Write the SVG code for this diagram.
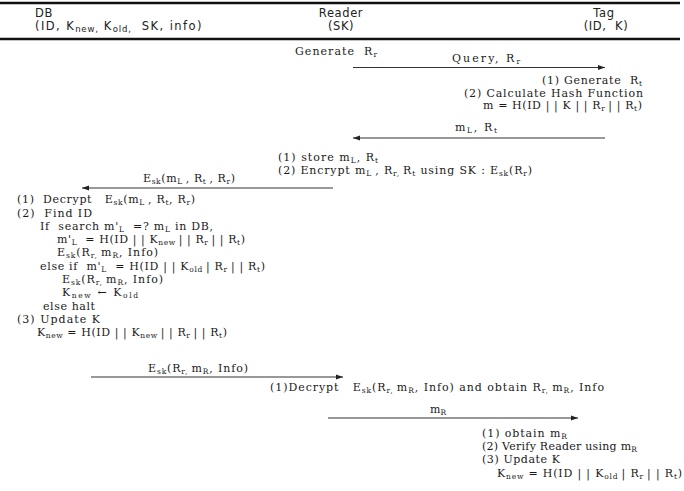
<svg xmlns="http://www.w3.org/2000/svg" width="684" height="491" viewBox="0 0 684 491">
<style>
.t{font-family:"DejaVu Serif","Liberation Serif",serif;font-size:11px;fill:#1a1a1a;white-space:pre}
.s{font-size:7.5px}
.h{font-family:"DejaVu Sans","Noto Sans",sans-serif;font-size:11.5px;fill:#222;white-space:pre;letter-spacing:0.6px}
.hs{font-size:8.5px;letter-spacing:0}
.rule{stroke:#111;stroke-width:2.5}
.arr{stroke:#333;stroke-width:1.1;fill:none;marker-end:url(#ah)}
</style>
<defs>
<marker id="ah" markerUnits="userSpaceOnUse" markerWidth="8" markerHeight="6" refX="7" refY="3" orient="auto">
<path d="M0,0.5 L7,3 L0,5.5 Z" fill="#222"/>
</marker>
</defs>
<rect width="684" height="491" fill="#fff"/>
<line class="rule" x1="0" y1="3" x2="680" y2="3"/>
<line class="rule" x1="0" y1="39" x2="680" y2="39"/>

<g id="db">
<text class="h" x="35" y="17">DB</text>
<text class="h" x="35" y="30" textLength="167">(ID, K<tspan class="hs" dy="2">new,</tspan><tspan dy="-2"> K</tspan><tspan class="hs" dy="2">old,</tspan><tspan dy="-2">  SK, info)</tspan></text>
</g>
<g id="reader">
<text class="h" x="341" y="17" text-anchor="middle">Reader</text>
<text class="h" x="341" y="30" text-anchor="middle">(SK)</text>
</g>
<g id="tag">
<text class="h" x="604" y="17" text-anchor="middle">Tag</text>
<text class="h" x="606" y="30" text-anchor="middle">(ID,  K)</text>
</g>

<g id="connectors">
<line class="arr" x1="353" y1="67.5" x2="605" y2="67.5"/>
<line class="arr" x1="605" y1="138" x2="353" y2="138"/>
<line class="arr" x1="333" y1="188" x2="82" y2="188"/>
<line class="arr" x1="91" y1="377" x2="343" y2="377"/>
<line class="arr" x1="328" y1="418" x2="578" y2="418"/>
</g>

<g id="labels">
<text class="t" x="452" y="62" textLength="68">Query, R<tspan class="s" dy="2">r</tspan></text>
<text class="t" x="455" y="131" textLength="42">m<tspan class="s" dy="2">L</tspan><tspan dy="-2">, R</tspan><tspan class="s" dy="2">t</tspan></text>
<text class="t" x="143" y="182" textLength="92">E<tspan class="s" dy="2">sk</tspan><tspan dy="-2">(m</tspan><tspan class="s" dy="2">L </tspan><tspan dy="-2">, R</tspan><tspan class="s" dy="2">t </tspan><tspan dy="-2">, R</tspan><tspan class="s" dy="2">r</tspan><tspan dy="-2">)</tspan></text>
<text class="t" x="148" y="372" textLength="100">E<tspan class="s" dy="2">sk</tspan><tspan dy="-2">(R</tspan><tspan class="s" dy="2">r, </tspan><tspan dy="-2">m</tspan><tspan class="s" dy="2">R</tspan><tspan dy="-2">, Info)</tspan></text>
<text class="t" x="430" y="413">m<tspan class="s" dy="2">R</tspan></text>
</g>

<g id="reader-steps">
<text class="t" x="295" y="55" textLength="82">Generate  R<tspan class="s" dy="2">r</tspan></text>
<text class="t" x="278" y="161" textLength="100">(1) store m<tspan class="s" dy="2">L</tspan><tspan dy="-2">, R</tspan><tspan class="s" dy="2">t</tspan></text>
<text class="t" x="278" y="174" textLength="254">(2) Encrypt m<tspan class="s" dy="2">L </tspan><tspan dy="-2">, R</tspan><tspan class="s" dy="2">r, </tspan><tspan dy="-2">R</tspan><tspan class="s" dy="2">t</tspan><tspan dy="-2"> using SK : E</tspan><tspan class="s" dy="2">sk</tspan><tspan dy="-2">(R</tspan><tspan class="s" dy="2">r</tspan><tspan dy="-2">)</tspan></text>
<text class="t" x="270" y="391" textLength="334">(1)Decrypt   E<tspan class="s" dy="2">sk</tspan><tspan dy="-2">(R</tspan><tspan class="s" dy="2">r, </tspan><tspan dy="-2">m</tspan><tspan class="s" dy="2">R</tspan><tspan dy="-2">, Info) and obtain R</tspan><tspan class="s" dy="2">r, </tspan><tspan dy="-2">m</tspan><tspan class="s" dy="2">R</tspan><tspan dy="-2">, Info</tspan></text>
</g>

<g id="tag-steps">
<text class="t" x="642" y="84" text-anchor="end" textLength="100">(1) Generate  R<tspan class="s" dy="2">t</tspan></text>
<text class="t" x="464" y="97" textLength="179">(2) Calculate Hash Function</text>
<text class="t" x="483" y="109" textLength="159">m = H(ID | | K | | R<tspan class="s" dy="2">r </tspan><tspan dy="-2">| | R</tspan><tspan class="s" dy="2">t</tspan><tspan dy="-2">)</tspan></text>
<text class="t" x="482" y="437" textLength="85">(1) obtain m<tspan class="s" dy="2">R</tspan></text>
<text class="t" x="482" y="450" textLength="155">(2) Verify Reader using m<tspan class="s" dy="2">R</tspan></text>
<text class="t" x="482" y="463" textLength="78">(3) Update K</text>
<text class="t" x="497" y="477" textLength="185">K<tspan class="s" dy="2">new</tspan><tspan dy="-2"> = H(ID | | K</tspan><tspan class="s" dy="2">old </tspan><tspan dy="-2">| R</tspan><tspan class="s" dy="2">r </tspan><tspan dy="-2">| | R</tspan><tspan class="s" dy="2">t</tspan><tspan dy="-2">)</tspan></text>
</g>

<g id="db-steps">
<text class="t" x="17" y="203" textLength="178">(1)  Decrypt   E<tspan class="s" dy="2">sk</tspan><tspan dy="-2">(m</tspan><tspan class="s" dy="2">L </tspan><tspan dy="-2">, R</tspan><tspan class="s" dy="2">t</tspan><tspan dy="-2">, R</tspan><tspan class="s" dy="2">r</tspan><tspan dy="-2">)</tspan></text>
<text class="t" x="17" y="217" textLength="75">(2)  Find ID</text>
<text class="t" x="40" y="230" textLength="173">If  search m'<tspan class="s" dy="2">L</tspan><tspan dy="-2">  =? m</tspan><tspan class="s" dy="2">L</tspan><tspan dy="-2"> in DB,</tspan></text>
<text class="t" x="57" y="243" textLength="188">m'<tspan class="s" dy="2">L</tspan><tspan dy="-2">  = H(ID | | K</tspan><tspan class="s" dy="2">new </tspan><tspan dy="-2">| | R</tspan><tspan class="s" dy="2">r </tspan><tspan dy="-2">| | R</tspan><tspan class="s" dy="2">t</tspan><tspan dy="-2">)</tspan></text>
<text class="t" x="57" y="256" textLength="101">E<tspan class="s" dy="2">sk</tspan><tspan dy="-2">(R</tspan><tspan class="s" dy="2">r, </tspan><tspan dy="-2">m</tspan><tspan class="s" dy="2">R</tspan><tspan dy="-2">, Info)</tspan></text>
<text class="t" x="40" y="270" textLength="225">else if  m'<tspan class="s" dy="2">L</tspan><tspan dy="-2">  = H(ID | | K</tspan><tspan class="s" dy="2">old </tspan><tspan dy="-2">| R</tspan><tspan class="s" dy="2">r </tspan><tspan dy="-2">| | R</tspan><tspan class="s" dy="2">t</tspan><tspan dy="-2">)</tspan></text>
<text class="t" x="62" y="283" textLength="101">E<tspan class="s" dy="2">sk</tspan><tspan dy="-2">(R</tspan><tspan class="s" dy="2">r, </tspan><tspan dy="-2">m</tspan><tspan class="s" dy="2">R</tspan><tspan dy="-2">, Info)</tspan></text>
<text class="t" x="62" y="296" textLength="76">K<tspan class="s" dy="2">new</tspan><tspan dy="-2"> ← K</tspan><tspan class="s" dy="2">old</tspan></text>
<text class="t" x="43" y="310" textLength="52">else halt</text>
<text class="t" x="17" y="323" textLength="83">(3) Update K</text>
<text class="t" x="37" y="336" textLength="190">K<tspan class="s" dy="2">new</tspan><tspan dy="-2"> = H(ID | | K</tspan><tspan class="s" dy="2">new </tspan><tspan dy="-2">| | R</tspan><tspan class="s" dy="2">r </tspan><tspan dy="-2">| | R</tspan><tspan class="s" dy="2">t</tspan><tspan dy="-2">)</tspan></text>
</g>
</svg>
